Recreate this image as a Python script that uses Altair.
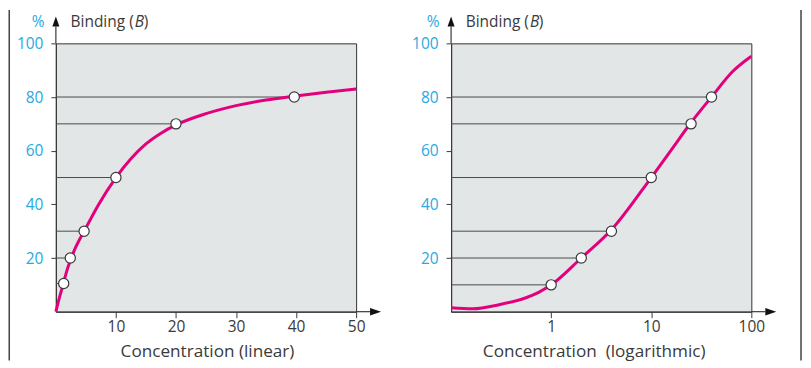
import altair as alt
import pandas as pd

# ---- data ----
lin_curve_c = [0, 0.5, 1, 2, 3, 5, 7, 10, 12.5, 15, 17.5, 20, 25, 30, 35, 40, 45, 50]
lin_curve_b = [0, 4.5, 8.5, 16.5, 22.5, 31.2, 39.5, 50, 57, 62.5, 66.5, 69.6, 73.8, 76.8, 78.9, 80.4, 81.8, 83]
lin_pts_c = [1.3, 2.4, 4.7, 10, 20, 39.7]
lin_pts_b = [10.5, 20, 30, 50, 70, 80]

log_curve_c = [0.1, 0.165, 0.3, 0.56, 0.75, 1, 2, 4, 10, 16, 25, 40, 65, 100]
log_curve_b = [1.5, 1.1, 2.6, 5.2, 7.2, 10, 20, 30.5, 50, 60.5, 70.5, 80, 89.5, 95.2]
log_pts_c = [1, 2, 4, 10, 25, 40]
log_pts_b = [10, 20, 30, 50, 70, 80]

y_ticks = [20, 40, 60, 80, 100]
lin_x_ticks = [10, 20, 30, 40, 50]
log_x_ticks = [1, 10, 100]

FONT = "Open Sans"
MAGENTA = "#e4007c"
BLUE = "#27aae1"
DARK = "#3a3a3a"
LINEC = "#4a4a4a"
W, H = 301, 269

one = pd.DataFrame({"k": [0]})


def txt(text, x, y, size, color, align="left", style="normal"):
    return alt.Chart(one).mark_text(
        text=text, align=align, baseline="alphabetic", fontSize=size,
        color=color, font=FONT, fontStyle=style
    ).encode(x=alt.value(x), y=alt.value(y))


def panel(curve_c, curve_b, pt_c, pt_b, xscale, xvalues, xfmt, title, title_x, frame_x):
    curve = pd.DataFrame({"c": curve_c, "b": curve_b})
    pts = pd.DataFrame({"c": pt_c, "b": pt_b})
    x_enc = alt.X("c:Q", scale=xscale, title=None,
                  axis=alt.Axis(values=xvalues, format=xfmt, tickSize=6, labelPadding=2,
                                labelFontSize=15.5, labelColor=DARK, labelFont=FONT,
                                domainColor=DARK, tickColor=DARK, domainWidth=1.2,
                                grid=False, labelFlush=False, labelOverlap=False))
    y_enc = alt.Y("b:Q", scale=alt.Scale(domain=[0, 100]), title=None,
                  axis=alt.Axis(values=y_ticks, tickSize=5, labelPadding=8,
                                labelFontSize=15.5, labelColor=BLUE, labelFont=FONT,
                                domainColor=DARK, tickColor=DARK, domainWidth=1.2,
                                grid=False, labelFlush=False, labelOverlap=False))
    refs = alt.Chart(pts).mark_rule(color=LINEC, strokeWidth=1).encode(
        x=x_enc, x2=alt.value(0), y=y_enc)
    line = alt.Chart(curve).mark_line(color=MAGENTA, strokeWidth=3, interpolate="monotone").encode(
        x=x_enc, y=y_enc)
    dots = alt.Chart(pts).mark_point(filled=True, fill="white", stroke=DARK, strokeWidth=1.2,
                                     size=105, opacity=1).encode(x=x_enc, y=y_enc)
    y_ext = alt.Chart(one).mark_rule(color=DARK, strokeWidth=1.2).encode(
        x=alt.value(0), y=alt.value(-17), y2=alt.value(0))
    y_arrow = alt.Chart(one).mark_point(shape="M0,-1L-0.35,0L0.35,0Z", size=400, filled=True,
                                        color="#111", opacity=1).encode(
        x=alt.value(0), y=alt.value(-17))
    x_ext = alt.Chart(one).mark_rule(color=DARK, strokeWidth=1.2).encode(
        x=alt.value(W), x2=alt.value(W + 14), y=alt.value(H))
    x_arrow = alt.Chart(one).mark_point(shape="M1.1,0L0,-0.38L0,0.38Z", size=400, filled=True,
                                        color="#111", opacity=1).encode(
        x=alt.value(W + 14), y=alt.value(H))
    frame = alt.Chart(one).mark_rule(color="#444", strokeWidth=1.5).encode(
        x=alt.value(frame_x), y=alt.value(-33.5), y2=alt.value(318))
    texts = [
        txt("%", -11.5, -16.5, 15.5, BLUE, align="right"),
        txt("Binding (", 78, -16.5, 15.5, DARK, align="right"),
        txt("B", 79, -16.5, 15.5, DARK, style="italic"),
        txt(")", 88, -16.5, 15.5, DARK),
        txt(title, title_x, 314, 17.2, DARK, align="center"),
    ]
    return alt.layer(refs, line, dots, y_ext, y_arrow, x_ext, x_arrow, frame, *texts).properties(
        width=W, height=H)


left = panel(lin_curve_c, lin_curve_b, lin_pts_c, lin_pts_b,
             alt.Scale(domain=[0, 50], nice=False, zero=False), lin_x_ticks, "d",
             "Concentration (linear)", 152, -46.75)
right = panel(log_curve_c, log_curve_b, log_pts_c, log_pts_b,
              alt.Scale(type="log", domain=[0.1, 100], nice=False), log_x_ticks, ".0f",
              "Concentration\u00a0 (logarithmic)", 143.5, 350.8)

chart = alt.hconcat(left, right, spacing=95.2, bounds="flush").properties(
    padding=0
).configure_view(
    fill="#e2e6e7", stroke="#333", strokeWidth=1
)

chart.save("out.html", embed_options={"renderer": "svg", "actions": False})
